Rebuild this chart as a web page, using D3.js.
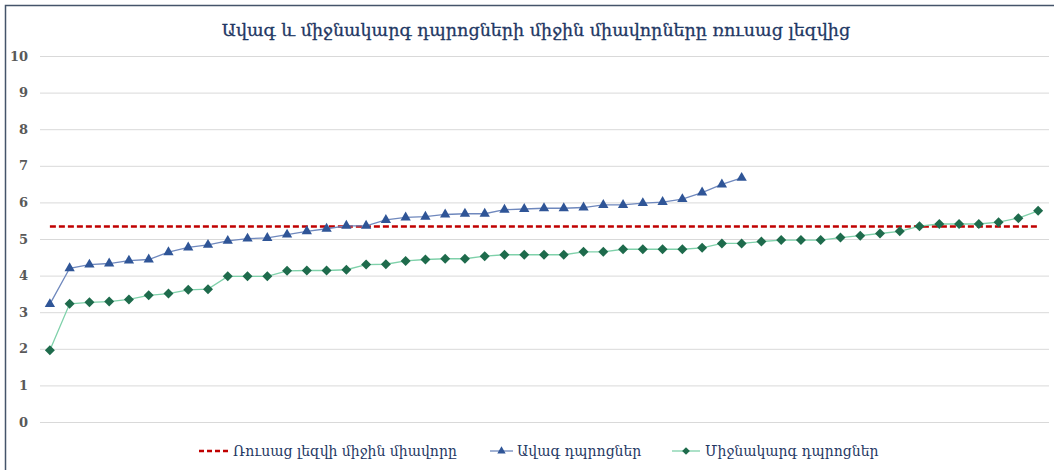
<!DOCTYPE html>
<html>
<head>
<meta charset="utf-8">
<script src="https://cdn.jsdelivr.net/npm/d3@7"></script>
<style>
  body { margin: 0; background: #fff; }
  svg { display: block; }
</style>
</head>
<body>
<svg id="chart"></svg>
<script>
// Data ----------
const chartTitle = "Ավագ և միջնակարգ դպրոցների միջին միավորները ռուսաց լեզվից";
const legendLabels = ["Ռուսաց լեզվի միջին միավորը", "Ավագ դպրոցներ", "Միջնակարգ դպրոցներ"];
const yTicks = [0, 1, 2, 3, 4, 5, 6, 7, 8, 9, 10];
const avgScore = 5.34;

const highSchools = [3.22, 4.20, 4.30, 4.33, 4.41, 4.44, 4.64, 4.77, 4.84, 4.95, 5.01, 5.03,
    5.12, 5.21, 5.28, 5.36, 5.36, 5.52, 5.59, 5.61, 5.67, 5.69, 5.69, 5.80, 5.82, 5.84,
    5.84, 5.86, 5.93, 5.93, 5.98, 6.01, 6.09, 6.27, 6.49, 6.67];

const middleSchools = [1.96, 3.23, 3.27, 3.29, 3.35, 3.46, 3.51, 3.61, 3.63, 3.98, 3.98, 3.98,
    4.13, 4.14, 4.14, 4.16, 4.30, 4.31, 4.40, 4.44, 4.46, 4.46, 4.53, 4.57, 4.57, 4.57,
    4.57, 4.65, 4.65, 4.72, 4.72, 4.72, 4.72, 4.76, 4.88, 4.88, 4.93, 4.97, 4.97, 4.97,
    5.04, 5.09, 5.15, 5.21, 5.35, 5.41, 5.41, 5.41, 5.46, 5.57, 5.77];

const categories = d3.range(1, middleSchools.length + 1);

document.addEventListener("DOMContentLoaded", function () {
    const width = 1054, height = 470;
    const font = "'DejaVu Serif', 'Liberation Serif', serif";

    const svg = d3.select("#chart")
        .attr("width", width)
        .attr("height", height);

    // Frame
    svg.append("rect")
        .attr("x", 5.5)
        .attr("y", 5.5)
        .attr("width", 1100)
        .attr("height", 600)
        .style("fill", "#fff")
        .style("stroke", "#44546a")
        .style("stroke-width", 1.5);

    // Scales
    const x = d3.scaleBand()
        .domain(categories)
        .range([40, 1048]);
    const cx = i => x(categories[i]) + x.bandwidth() / 2;

    const y = d3.scaleLinear()
        .domain([0, 10])
        .range([422, 56]);

    // Grid ----------
    svg.append("g")
        .attr("transform", "translate(40,0)")
        .call(d3.axisLeft(y).tickValues(yTicks).tickSize(-1009).tickFormat(""))
        .call(g => g.select(".domain").remove())
        .call(g => g.selectAll("line").style("stroke", "#d9d9d9").style("stroke-width", 1));

    // Y labels
    svg.append("g")
        .attr("transform", "translate(40,0)")
        .call(d3.axisLeft(y).tickValues(yTicks).tickSize(0).tickPadding(12))
        .call(g => g.select(".domain").remove())
        .call(g => g.selectAll("text")
            .style("font-family", font)
            .style("font-weight", "bold")
            .style("font-size", "13px")
            .style("fill", "#595959"));

    // Average line ----------
    svg.append("line")
        .attr("x1", cx(0))
        .attr("x2", cx(categories.length - 1))
        .attr("y1", y(avgScore))
        .attr("y2", y(avgScore))
        .style("stroke", "#c00000")
        .style("stroke-width", 2.5)
        .style("stroke-dasharray", "6,3");

    const line = d3.line()
        .x((d, i) => cx(i))
        .y(d => y(d));

    // High schools ----------
    svg.append("path")
        .datum(highSchools)
        .attr("d", line)
        .style("fill", "none")
        .style("stroke", "#6f88bd")
        .style("stroke-width", 1.3);

    svg.selectAll(".high")
        .data(highSchools)
        .enter()
        .append("path")
        .classed("high", true)
        .attr("d", d3.symbol().type(d3.symbolTriangle).size(46))
        .attr("transform", (d, i) => `translate(${cx(i)},${y(d)})`)
        .style("fill", "#2f5597");

    // Middle schools ----------
    svg.append("path")
        .datum(middleSchools)
        .attr("d", line)
        .style("fill", "none")
        .style("stroke", "#7fd1aa")
        .style("stroke-width", 1.3);

    // diamonds: rotated squares, as wide as they are tall
    svg.selectAll(".mid")
        .data(middleSchools)
        .enter()
        .append("path")
        .classed("mid", true)
        .attr("d", d3.symbol().type(d3.symbolSquare).size(50))
        .attr("transform", (d, i) => `translate(${cx(i)},${y(d)}) rotate(45)`)
        .style("fill", "#1e6b4c");

    // Title ----------
    svg.append("text")
        .attr("x", 536)
        .attr("y", 36)
        .attr("text-anchor", "middle")
        .style("font-family", font)
        .style("font-size", "17.5px")
        .style("fill", "#1f3864")
        .style("stroke", "#1f3864")
        .style("stroke-width", 0.3)
        .text(chartTitle);

    // Legend ----------
    const legendY = 451;
    const lg = svg.append("g");

    lg.append("line")
        .attr("x1", 199).attr("x2", 228)
        .attr("y1", legendY).attr("y2", legendY)
        .style("stroke", "#c00000")
        .style("stroke-width", 2.5)
        .style("stroke-dasharray", "5,3");
    lg.append("text")
        .attr("x", 233).attr("y", legendY + 5)
        .text(legendLabels[0]);

    lg.append("line")
        .attr("x1", 490).attr("x2", 513)
        .attr("y1", legendY).attr("y2", legendY)
        .style("stroke", "#6f88bd")
        .style("stroke-width", 1.3);
    lg.append("path")
        .attr("d", d3.symbol().type(d3.symbolTriangle).size(30))
        .attr("transform", `translate(501.5,${legendY})`)
        .style("fill", "#2f5597");
    lg.append("text")
        .attr("x", 517).attr("y", legendY + 5)
        .text(legendLabels[1]);

    lg.append("line")
        .attr("x1", 672).attr("x2", 700)
        .attr("y1", legendY).attr("y2", legendY)
        .style("stroke", "#7fd1aa")
        .style("stroke-width", 1.3);
    lg.append("path")
        .attr("d", d3.symbol().type(d3.symbolSquare).size(30))
        .attr("transform", `translate(686,${legendY}) rotate(45)`)
        .style("fill", "#1e6b4c");
    lg.append("text")
        .attr("x", 705).attr("y", legendY + 5)
        .text(legendLabels[2]);

    lg.selectAll("text")
        .style("font-family", font)
        .style("font-size", "14px")
        .style("fill", "#1f3864");
});
</script>
</body>
</html>
